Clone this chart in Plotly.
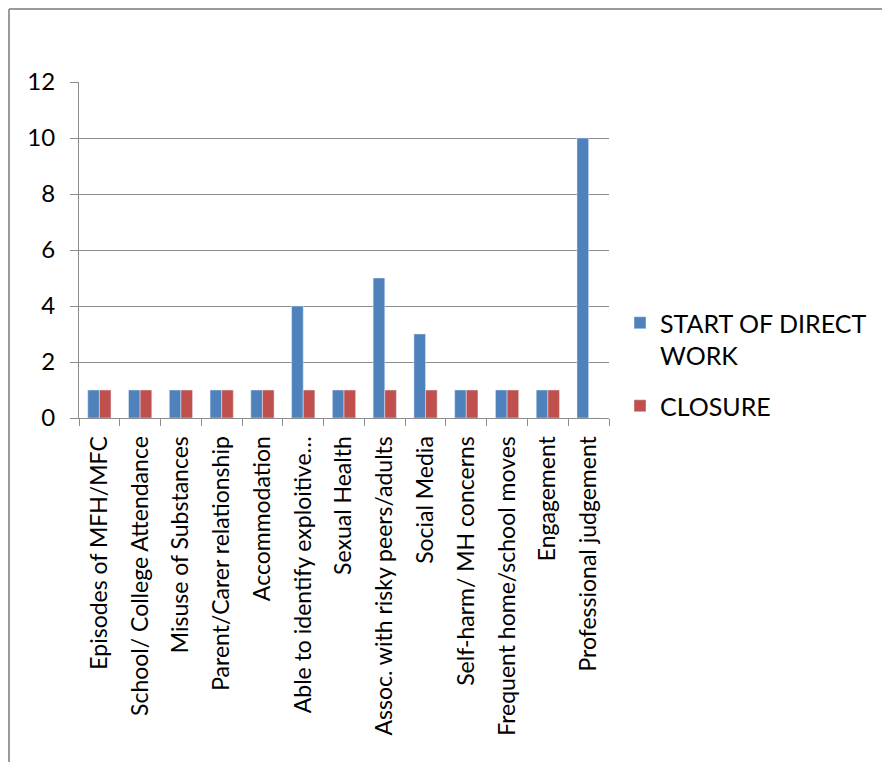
import plotly.graph_objects as go

categories = [
    "Episodes of MFH/MFC",
    "School/ College Attendance",
    "Misuse of Substances",
    "Parent/Carer relationship",
    "Accommodation",
    "Able to identify exploitive…",
    "Sexual Health",
    "Assoc. with risky peers/adults",
    "Social Media",
    "Self-harm/ MH concerns",
    "Frequent home/school moves",
    "Engagement",
    "Professional judgement",
]
start_values = [1, 1, 1, 1, 1, 4, 1, 5, 3, 1, 1, 1, 10]
closure_values = [1, 1, 1, 1, 1, 1, 1, 1, 1, 1, 1, 1, 0]
y_ticks = [0, 2, 4, 6, 8, 10, 12]

FONT = "Lato"
GRID = "#8c8c8c"

fig = go.Figure()
fig.add_trace(go.Bar(x=categories, y=start_values, name="START OF DIRECT<br>WORK",
                     marker_color="#4F81BD", legendgroup="a"))
fig.add_trace(go.Bar(x=categories, y=closure_values, name="CLOSURE",
                     marker_color="#C0504D", legendgroup="b"))

OFF = 8  # page body margin
W, H = 890 - OFF, 762 - OFF
L, R, T, B = 79 - OFF, 609 - OFF, 82 - OFF, 418 - OFF
pw, ph = R - L, B - T

def px(x):
    return (x - OFF - L) / pw

def py(y):
    return (B - (y - OFF)) / ph

fig.update_layout(
    width=W, height=H,
    margin=dict(l=L, r=W - R, t=T, b=H - B, pad=0),
    paper_bgcolor="white", plot_bgcolor="white",
    font=dict(family=FONT, size=23, color="black"),
    barmode="group", bargap=0.43, bargroupgap=0,
    showlegend=True,
    legend=dict(x=px(620), y=py(300), xanchor="left", yanchor="top",
                traceorder="grouped", tracegroupgap=15, valign="top",
                font=dict(family=FONT, size=25, color="black"),
                bgcolor="rgba(0,0,0,0)"),
    xaxis=dict(type="category", showline=True, linecolor=GRID, linewidth=1,
               ticks="outside", tickson="boundaries", ticklen=7, tickcolor=GRID,
               tickangle=-90, ticklabelstandoff=8, showgrid=False,
               tickfont=dict(family=FONT, size=23, color="black")),
    yaxis=dict(range=[0, 12], tickvals=y_ticks, showline=True, linecolor=GRID,
               linewidth=1, ticks="outside", ticklen=8, tickcolor=GRID,
               showgrid=True, gridcolor=GRID, gridwidth=1, zeroline=False,
               ticklabelstandoff=10,
               tickfont=dict(family=FONT, size=24, color="black")),
    shapes=[
        dict(type="line", xref="paper", yref="paper", x0=px(9), x1=px(900),
             y0=py(9), y1=py(9), line=dict(color="#9a9a9a", width=2)),
        dict(type="line", xref="paper", yref="paper", x0=px(9), x1=px(9),
             y0=py(9), y1=py(780), line=dict(color="#9a9a9a", width=2)),
    ],
)

fig.write_html("out.html")
